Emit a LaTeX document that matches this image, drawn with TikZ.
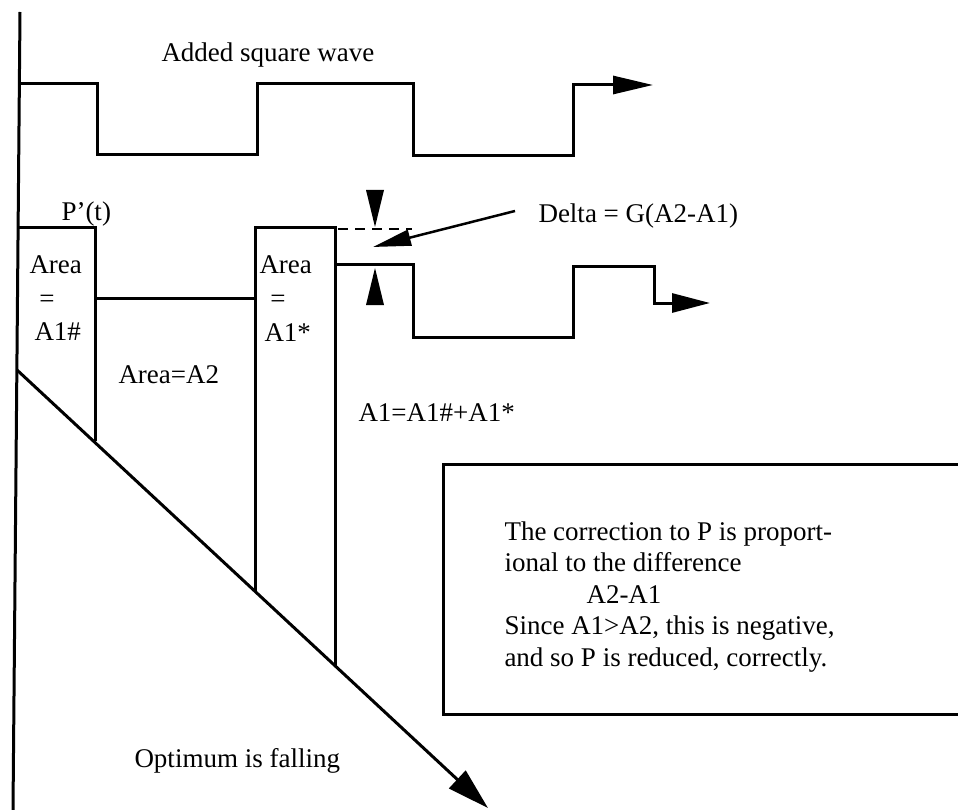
\documentclass[tikz,border=0pt]{standalone}
\usepackage{fontspec}
\setmainfont{Liberation Serif}
\usetikzlibrary{arrows.meta}
\begin{document}
\begin{tikzpicture}[x=1pt,y=-1pt,line width=3pt,
  txt/.style={font=\fontsize{27}{31.5}\selectfont,inner sep=0pt,anchor=base west},
  eqs/.style={font=\fontsize{27}{31.5}\selectfont,inner sep=0pt,anchor=base},
  wavearrow/.style={-{Triangle[length=40pt,width=18pt]}}]
\useasboundingbox (0,0) rectangle (958,810);
\fill[white] (0,0) rectangle (958,810);

% axis
\coordinate (axTop) at (20,12);
\coordinate (axBot) at (13,810);
\draw (axTop) -- (axBot);

% added square wave
\coordinate (sw0) at (19,84);
\coordinate (swEnd) at (653,85);
\draw[wavearrow] (sw0) -- (97,84) -- (97,155) -- (257,155) -- (257,84) -- (413,84)
  -- (413,156) -- (573,156) -- (573,85) -- (swEnd);

% P'(t)
\coordinate (p0) at (18,228);
\draw (p0) -- (95,228) -- (95,441);
\draw (95,298) -- (255,298);
\draw (255,591) -- (255,228) -- (335,228) -- (335,666);
\coordinate (pEnd) at (710,303);
\draw[-{Triangle[length=38pt,width=19pt]}] (335,265) -- (413,265) -- (413,337) -- (573,337)
  -- (573,267) -- (654,267) -- (654,303) -- (pEnd);

% optimum falling
\coordinate (optStart) at (17,370);
\coordinate (optEnd) at (488,808);
\draw[-{Triangle[length=42pt,width=24pt]}] (optStart) -- (optEnd);

% dashed continuation
\draw[line width=2.5pt,dash pattern=on 10pt off 7pt] (338,229) -- (412,229);

% delta marks
\fill (366,190) -- (384,190) -- (375,227) -- cycle;
\fill (366,305) -- (384,305) -- (375,268) -- cycle;

% delta label and arrow
\node[txt] (delta) at (537,223) {Delta = G(A2-A1)};
\coordinate (deltaTip) at (373,247);
\draw[line width=2.5pt,-{Triangle[length=38pt,width=16pt]}] (515,211) -- (deltaTip);

% labels
\node[txt] (added) at (160,62) {Added square wave};
\node[txt] (pt) at (60,221) {P'(t)};
\node[txt] (areaA) at (28,274) {Area};
\node[eqs] (eqA) at (47,307) {=};
\node[txt] (a1h) at (33,340) {A1\#};
\node[txt] (areaB) at (258,274) {Area};
\node[eqs] (eqB) at (278,307) {=};
\node[txt] (a1s) at (263,341) {A1*};
\node[txt] (areaA2) at (117,383) {Area=A2};
\node[txt] (a1sum) at (357,421) {A1=A1\#+A1*};
\node[txt] (opt) at (133,767) {Optimum is falling};

% explanation box
\draw (965,464) -- (443,464) -- (443,714) -- (965,714);
\node[txt] (l1) at (503,540) {The correction to P is proport-};
\node[txt] (l2) at (503,571.5) {ional to the difference};
\node[txt] (l3) at (585,603) {A2-A1};
\node[txt] (l4) at (503,634.5) {Since A1>A2, this is negative,};
\node[txt] (l5) at (503,666) {and so P is reduced, correctly.};
\end{tikzpicture}
\end{document}
